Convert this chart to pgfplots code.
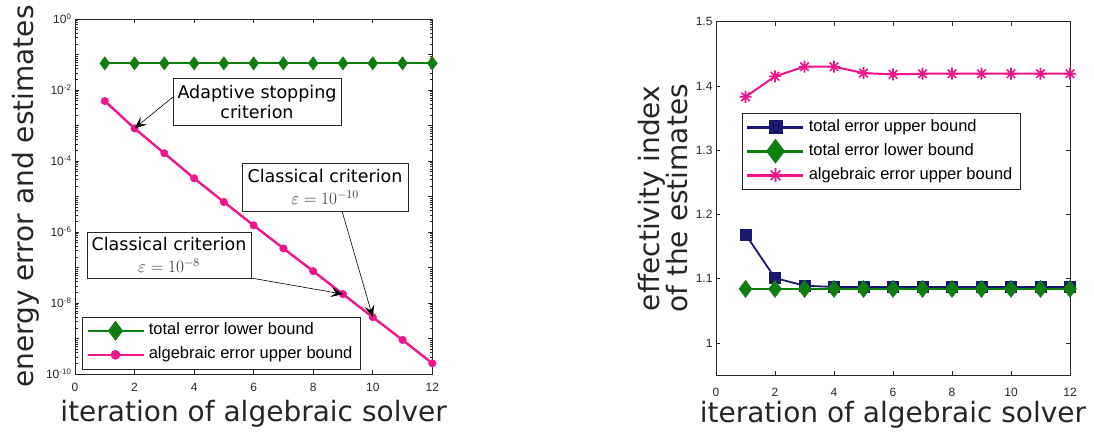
\documentclass[border=0pt]{standalone}
\usepackage{pgfplots}
\pgfplotsset{compat=1.18}
\usepackage{fontspec}
\setmainfont{DejaVu Sans}
\newfontfamily\lib{Liberation Sans}
\usetikzlibrary{arrows.meta}
\definecolor{mgreen}{RGB}{16,125,16}
\definecolor{mpink}{RGB}{240,20,140}
\definecolor{mnavy}{RGB}{25,25,112}
\definecolor{axgray}{RGB}{38,38,38}
\pgfdeclareplotmark{mstar}{%
 \pgfpathmoveto{\pgfqpoint{-\pgfplotmarksize}{0pt}}\pgfpathlineto{\pgfqpoint{\pgfplotmarksize}{0pt}}%
 \pgfpathmoveto{\pgfqpoint{0pt}{-\pgfplotmarksize}}\pgfpathlineto{\pgfqpoint{0pt}{\pgfplotmarksize}}%
 \pgfpathmoveto{\pgfqpoint{-.707\pgfplotmarksize}{-.707\pgfplotmarksize}}\pgfpathlineto{\pgfqpoint{.707\pgfplotmarksize}{.707\pgfplotmarksize}}%
 \pgfpathmoveto{\pgfqpoint{-.707\pgfplotmarksize}{.707\pgfplotmarksize}}\pgfpathlineto{\pgfqpoint{.707\pgfplotmarksize}{-.707\pgfplotmarksize}}%
 \pgfusepathqstroke}
\pgfplotsset{
  mstyle/.style={
    scale only axis,
    xmin=0, xmax=12, xtick={0,2,...,12},
    axis line style={draw=axgray, line width=0.8pt},
    tick style={draw=axgray, line width=0.6pt},
    tick align=inside, xtick pos=both, ytick pos=both,
    major tick length=4pt, minor tick length=2.5pt,
    tick label style={font=\fontsize{12}{14}\lib, text=axgray},
    /pgf/number format/assume math mode=true,
    xticklabel style={yshift=-6pt},
    every axis x label/.style={at={(axis description cs:0.5,-0.135)}, anchor=base, font=\fontsize{28}{30}\selectfont, text=axgray},
    legend cell align=left,
    legend image code/.code={%
      \draw[##1, mark=none, line width=2.6pt] (0pt,0pt) -- (56pt,0pt);
      \draw[##1, only marks] plot coordinates {(28pt,0pt)};},
    legend style={draw=axgray, inner xsep=4pt, inner ysep=2pt,
      font=\fontsize{16.5}{18}\lib,
      nodes={text height=12pt, text depth=4pt, inner ysep=4pt, inner xsep=4pt}},
  }
}
\begin{document}
\begin{tikzpicture}
\path[use as bounding box] (0,0) rectangle (1094pt,434pt);
% ---------------- left axis
\begin{axis}[mstyle,
  at={(75pt,60pt)}, anchor=south west,
  width=357.3pt, height=355pt,
  ymode=log, ymin=1e-10, ymax=1,
  ytick={1e-10,1e-9,1e-8,1e-7,1e-6,1e-5,1e-4,1e-3,1e-2,1e-1,1},
  yticklabels={10\textsuperscript{-10},,10\textsuperscript{-8},,10\textsuperscript{-6},,10\textsuperscript{-4},,10\textsuperscript{-2},,10\textsuperscript{0}},
  xlabel={iteration of algebraic solver},
  ylabel={energy error and estimates},
  every axis y label/.style={at={(axis description cs:-0.1175,0.5)}, rotate=90, anchor=base, font=\fontsize{28}{30}\selectfont, text=axgray},
  legend style={at={(axis description cs:0.0196,0.0141)}, anchor=south west},
]
\addplot[color=mgreen, line width=2.2pt, mark=diamond*, mark size=6.5pt, mark options={line width=0.6pt}, legend image post style={mark size=9.5pt}]
  coordinates {(1,0.0565)(2,0.0565)(3,0.0565)(4,0.0565)(5,0.0565)(6,0.0565)(7,0.0565)(8,0.0565)(9,0.0565)(10,0.0565)(11,0.0565)(12,0.0565)};
\addlegendentry{total error lower bound}
\addplot[color=mpink, line width=2.4pt, mark=*, mark size=3.7pt, mark options={line width=0.6pt}, legend image post style={mark size=4.5pt}]
  coordinates {(1,4.9e-3)(2,8.3e-4)(3,1.65e-4)(4,3.25e-5)(5,7.0e-6)(6,1.54e-6)(7,3.45e-7)(8,7.9e-8)(9,1.78e-8)(10,4.0e-9)(11,9.1e-10)(12,2.0e-10)};
\addlegendentry{algebraic error upper bound}
\coordinate (p2) at (axis cs:2,8.3e-4);
\coordinate (p9) at (axis cs:9,1.78e-8);
\coordinate (p10) at (axis cs:10,4.0e-9);
\end{axis}
\tikzset{ann/.style={draw=axgray, fill=white, line width=0.8pt, align=center, inner sep=2pt, font=\fontsize{17.5}{20}\selectfont},
  arr/.style={-{Stealth[length=12pt,width=10pt,inset=5pt]}, line width=0.6pt, black}}
\draw[arr] (173pt,337pt) -- (p2);
\draw[arr] (342pt,223pt) -- (p10);
\draw[arr] (251pt,156pt) -- (p9);
\node[ann, minimum width=168pt, minimum height=47pt] at (257pt,332.5pt) {Adaptive stopping\\criterion};
\node[ann, minimum width=166pt, minimum height=48pt] at (325pt,247pt) {Classical criterion\\[2pt]{\color{black!80}$\varepsilon=10^{-10}$}};
\node[ann, minimum width=164pt, minimum height=46pt] at (169pt,179pt) {Classical criterion\\[2pt]{\color{black!80}$\varepsilon=10^{-8}$}};
% ---------------- right axis
\begin{axis}[mstyle,
  at={(716pt,59pt)}, anchor=south west,
  width=354pt, height=353.3pt,
  ymin=0.95, ymax=1.5, ytick={1,1.1,1.2,1.3,1.4,1.5},
  xlabel={iteration of algebraic solver},
  ylabel={effectivity index\\of the estimates},
  every axis y label/.style={at={(axis description cs:-0.079,0.5)}, rotate=90, anchor=south, inner sep=0pt, align=center, font=\fontsize{28}{28}\selectfont, text=axgray},
  xticklabel style={yshift=-4pt},
  legend style={at={(axis description cs:0.0734,0.7416)}, anchor=north west},
]
\addplot[color=mnavy, line width=1.8pt, mark=square*, mark size=5.5pt, mark options={line width=0.6pt}, legend image post style={mark size=6.5pt}]
  coordinates {(1,1.169)(2,1.101)(3,1.089)(4,1.087)(5,1.087)(6,1.087)(7,1.087)(8,1.087)(9,1.087)(10,1.087)(11,1.087)(12,1.087)};
\addlegendentry{total error upper bound}
\addplot[color=mgreen, line width=2.2pt, mark=diamond*, mark size=8.5pt, mark options={line width=0.6pt}, legend image post style={mark size=12pt}]
  coordinates {(1,1.084)(2,1.084)(3,1.084)(4,1.084)(5,1.084)(6,1.084)(7,1.084)(8,1.084)(9,1.084)(10,1.084)(11,1.084)(12,1.084)};
\addlegendentry{total error lower bound}
\addplot[color=mpink, line width=2pt, mark=mstar, mark size=6pt, mark options={line width=1.6pt}, legend image post style={mark size=7pt}]
  coordinates {(1,1.383)(2,1.415)(3,1.430)(4,1.430)(5,1.420)(6,1.418)(7,1.419)(8,1.419)(9,1.419)(10,1.419)(11,1.419)(12,1.419)};
\addlegendentry{algebraic error upper bound}
\end{axis}
\end{tikzpicture}
\end{document}
